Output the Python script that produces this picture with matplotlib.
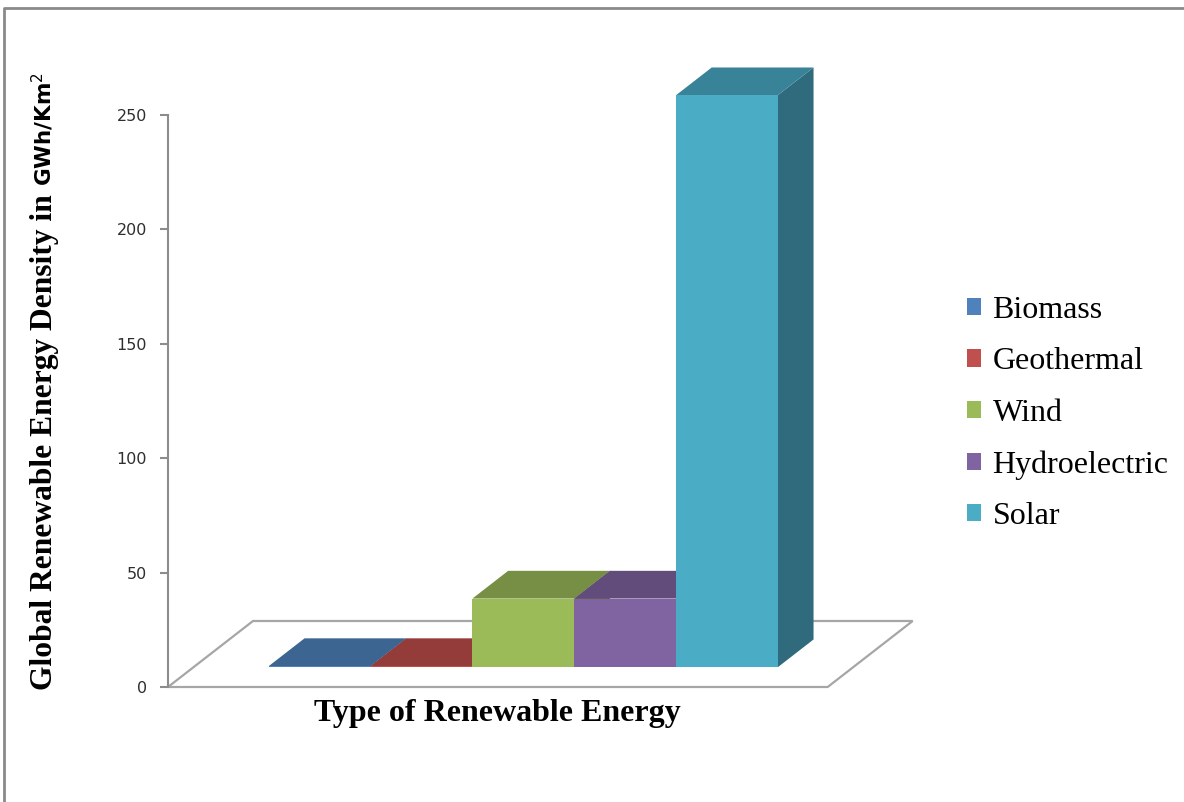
import matplotlib
matplotlib.use("Agg")
import matplotlib.pyplot as plt
from matplotlib.patches import Polygon, Patch
from matplotlib.lines import Line2D

# dane
kategorie = ["Biomass", "Geothermal", "Wind", "Hydroelectric", "Solar"]
gestosc = [0.5, 0.5, 30, 30, 250]   # GWh/Km2
kolory_przod = ["#4F81BD", "#C0504D", "#9BBB59", "#8064A2", "#4BACC6"]
kolory_gora = ["#3D6591", "#943C3A", "#778F44", "#624C7C", "#398398"]
kolory_bok = ["#335479", "#7B3230", "#637738", "#513F67", "#2F6B7C"]
y_ticks = [0, 50, 100, 150, 200, 250]

# rzut "3D": przesuniecie w glebi (x w jednostkach kategorii, y w jednostkach wartosci)
DX, DY = 0.835, 28.85
Z0, Z1 = 0.30, 0.72      # glebokosc slupkow
POD = 0.74               # margines podlogi

W, H = 1184, 802
fig = plt.figure(figsize=(W / 100, H / 100), dpi=100)
ax = fig.add_axes([168 / W, (H - 687) / H, 746 / W, 627 / H])
ax.set_xlim(-POD, -POD + 746 / 101.8)
ax.set_ylim(0, 627 / 2.288)


def rzut(x, y, z):
    return (x + z * DX, y + z * DY)


# podloga
n = len(kategorie)
podloga = [rzut(-POD, 0, 0), rzut(n + POD, 0, 0), rzut(n + POD, 0, 1), rzut(-POD, 0, 1)]
ax.add_patch(Polygon(podloga, closed=True, facecolor="white", edgecolor="#A6A6A6",
                     lw=1.6, clip_on=False, zorder=1))

# slupki
for i, v in enumerate(gestosc):
    x0, x1 = i, i + 1
    przod = [rzut(x0, 0, Z0), rzut(x1, 0, Z0), rzut(x1, v, Z0), rzut(x0, v, Z0)]
    gora = [rzut(x0, v, Z0), rzut(x1, v, Z0), rzut(x1, v, Z1), rzut(x0, v, Z1)]
    bok = [rzut(x1, 0, Z0), rzut(x1, 0, Z1), rzut(x1, v, Z1), rzut(x1, v, Z0)]
    ax.add_patch(Polygon(bok, closed=True, facecolor=kolory_bok[i], lw=0, zorder=2 + i))
    ax.add_patch(Polygon(gora, closed=True, facecolor=kolory_gora[i], lw=0, zorder=2 + i))
    ax.add_patch(Polygon(przod, closed=True, facecolor=kolory_przod[i], lw=0, zorder=2 + i))

# os Y
for s in ["top", "right", "bottom"]:
    ax.spines[s].set_visible(False)
ax.spines["left"].set_bounds(0, 250)
ax.spines["left"].set_color("#8C8C8C")
ax.spines["left"].set_linewidth(1.5)
ax.set_xticks([])
ax.set_yticks(y_ticks)
ax.tick_params(axis="y", direction="out", length=6, width=1.5, color="#8C8C8C",
               pad=9, labelsize=11.5, labelcolor="#2E2E2E")
ax.patch.set_visible(False)

# opis osi X
fig.text(497 / W, (H - 714) / H, "Type of Renewable Energy", family="Liberation Serif",
         weight="bold", fontsize=23, ha="center", va="center")

# opis osi Y (dwie czesci: szeryfowa + jednostka)
t1 = fig.text(52 / W, (H - 690) / H, "Global Renewable Energy Density in ",
              family="Liberation Serif", weight="bold", fontsize=22.7,
              rotation=90, rotation_mode="anchor", ha="left", va="baseline")
plt.rcParams["mathtext.fontset"] = "dejavusans"
ax.annotate(r"GWh/Km$^2$", xy=(52, 1.0), xycoords=("figure pixels", t1),
            family="DejaVu Sans", weight="bold", fontsize=15.5,
            rotation=90, rotation_mode="anchor", ha="left", va="baseline",
            annotation_clip=False)

# legenda
uchwyty = [Patch(facecolor=c, edgecolor="none") for c in kolory_przod]
fig.legend(uchwyty, kategorie, loc="upper left", bbox_to_anchor=(967 / W, (H - 296) / H),
           frameon=False, prop={"family": "Liberation Serif", "size": 23},
           handlelength=0.45, handleheight=0.45, handletextpad=0.35, labelspacing=0.70,
           borderaxespad=0, borderpad=0)

# ramka
fig.add_artist(Line2D([4 / W, 4 / W, 1], [0, 1 - 8 / H, 1 - 8 / H],
                      transform=fig.transFigure, color="#8A8A8A", lw=2))

fig.savefig("out.png", dpi=100)
